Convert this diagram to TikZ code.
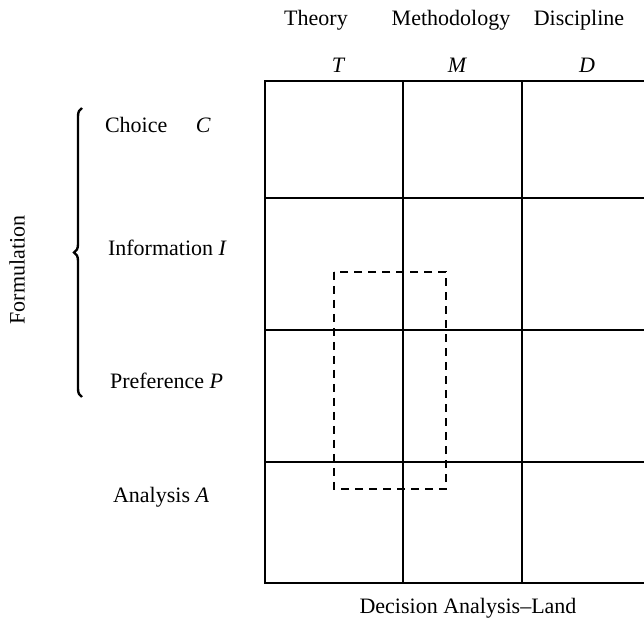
\documentclass[tikz,border=0pt]{standalone}
\usepackage{fontspec}
\setmainfont{Liberation Serif}
\usetikzlibrary{decorations.pathreplacing}
\begin{document}
\begin{tikzpicture}[x=0.5pt,y=-0.5pt,font=\fontsize{11}{13}\selectfont]
    \useasboundingbox (0,0) rectangle (644,626);

    % grid
    \draw[line width=1pt] (644,81) -- (265,81) -- (265,583) -- (644,583);
    \foreach \y in {198,330,462} {
      \draw[line width=0.8pt] (265,\y) -- (644,\y);
    }
    \foreach \x in {403,522} {
      \draw[line width=0.8pt] (\x,81) -- (\x,583);
    }
    \draw[line width=1.1pt,dash pattern=on 4pt off 3pt] (334,272) rectangle (446,489);

    % column heads
    \node (theory) at (316,20) {Theory};
    \node (meth) at (451,20) {Methodology};
    \node (disc) at (579,20) {Discipline};
    \node (t) at (338,65) {\itshape T};
    \node (m) at (457,65) {\itshape M};
    \node (d) at (587,65) {\itshape D};

    % row heads
    \node[anchor=west] (choice) at (98,125) {Choice\hspace{1.3em}\itshape C};
    \node[anchor=west] (info) at (101,248) {Information \itshape I};
    \node[anchor=west] (pref) at (103,381) {Preference \itshape P};
    \node[anchor=west] (anal) at (106,497) {Analysis \itshape A};

    \draw[line width=1.2pt,decorate,decoration={brace,amplitude=4pt}] (82,397) -- (82,108);
    \node[rotate=90] (form) at (17,270) {Formulation};

    \node (land) at (468,608) {Decision Analysis--Land};
\end{tikzpicture}
\end{document}
